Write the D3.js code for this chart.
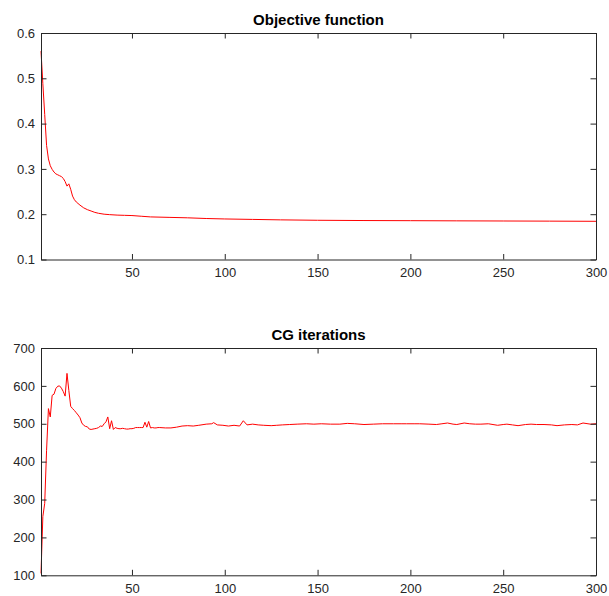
<!DOCTYPE html>
<html>
<head>
<meta charset="utf-8">
<script src="https://cdn.jsdelivr.net/npm/d3@7"></script>
<style>
  body { margin: 0; background: #fff; }
  text { font-family: "Liberation Sans", Arial, Helvetica, sans-serif; }
</style>
</head>
<body>
<div id="chart"></div>
<script>
// objective function per outer iteration
const objIter = [1,2,3,4,5,6,7,8,9,10,11,12,13,14,15,16,17,18,19,20,22,24,26,28,30,32,35,38,42,46,50,55,60,70,80,90,100,115,130,150,175,200,225,250,275,300]
const objVal = [0.560,0.488,0.420,0.352,0.322,0.307,0.299,0.293,0.289,0.287,0.285,0.283,0.279,0.272,0.262,0.267,0.255,0.240,0.232,0.227,0.220,0.214,0.210,0.207,0.204,0.202,0.200,0.199,0.198,0.1975,0.197,0.1955,0.194,0.193,0.192,0.1905,0.1895,0.1885,0.1875,0.1866,0.186,0.1857,0.1853,0.185,0.1847,0.1843]

// CG iterations per outer iteration
const cgIter = [1,2,3,4,5,6,7,8,9,10,11,12,13,14,15,16,17,18,19,20,21,22,23,24,25,26,27,28,29,30,
  31,32,33,34,35,36,37,38,39,40,41,42,43,44,45,46,47,48,49,50,51,52,53,54,55,56,57,58,59,60,
  61,62,63,64,65,68,71,74,77,80,83,86,90,93,94,96,99,102,105,108,110,112,115,118,121,125,128,131,
  135,139,144,148,152,157,162,166,170,175,180,185,191,195,198,202,205,210,214,217,220,223,225,229,
  232,235,238,242,247,250,252,255,258,262,265,268,272,276,279,283,287,290,293,297,300]
const cgVal = [105,255,290,430,540,518,575,578,593,599,600,594,585,573,633,588,546,540,535,529,523,516,502,496,493,492,486,485,486,487,
  488,490,494,493,500,505,518,487,508,485,490,488,487,487,488,487,486,486,487,487,488,490,490,490,490,490,504,491,506,489,
  490,489,489,490,490,489,489,491,494,495,494,496,499,500,503,497,496,494,496,494,508,497,499,497,496,495,496,497,
  498,499,500,499,500,499,499,501,500,498,499,500,500,500,500,500,500,499,498,500,502,499,498,502,
  500,499,499,500,496,498,499,497,495,498,499,498,498,497,495,497,498,497,502,499,500]

const xTicks = [50,100,150,200,250,300]
const objTicks = [0.1,0.2,0.3,0.4,0.5,0.6]
const cgTicks = [100,200,300,400,500,600,700]

const W = 609, H = 596
const axisColor = "#262626"
const tick = 5.5

const svg = d3.select("#chart").append("svg")
    .attr("width", W)
    .attr("height", H)

function panel(opts) {
    const left = 41, right = 596
    const x = d3.scaleLinear().domain([1, 300]).range([left, right])
    const y = d3.scaleLinear().domain(opts.yDomain).range([opts.bottom, opts.top])

    const g = svg.append("g")

    // line
    const pts = opts.xs.map((d, i) => [d, opts.ys[i]])
    g.append("path")
        .datum(pts)
        .attr("fill", "none")
        .attr("stroke", "#ff0000")
        .attr("stroke-width", 1)
        .attr("stroke-linejoin", "round")
        .attr("d", d3.line().x(d => x(d[0])).y(d => y(d[1])))

    // bottom axis, ticks inside
    const xb = g.append("g")
        .attr("transform", `translate(0,${opts.bottom})`)
        .call(d3.axisBottom(x).tickValues(xTicks).tickSizeInner(-tick).tickSizeOuter(0).tickPadding(8))
    // top axis (ticks only)
    const xt = g.append("g")
        .attr("transform", `translate(0,${opts.top})`)
        .call(d3.axisTop(x).tickValues(xTicks).tickSizeInner(-tick).tickSizeOuter(0).tickFormat(""))
    // left axis
    const yl = g.append("g")
        .attr("transform", `translate(${left},0)`)
        .call(d3.axisLeft(y).tickValues(opts.yTicks).tickSizeInner(-tick).tickSizeOuter(0).tickPadding(6)
            .tickFormat(opts.fmt))
    // right axis (ticks only)
    const yr = g.append("g")
        .attr("transform", `translate(${right},0)`)
        .call(d3.axisRight(y).tickValues(opts.yTicks).tickSizeInner(-tick).tickSizeOuter(0).tickFormat(""))

    for (const a of [xb, xt, yl, yr]) {
        a.select(".domain").attr("stroke", axisColor)
        a.selectAll(".tick line").attr("stroke", axisColor)
        a.selectAll(".tick text")
            .attr("fill", axisColor)
            .style("font-size", "13px")
            .style("font-family", '"Liberation Sans", Arial, sans-serif')
    }

    g.append("text")
        .attr("x", (left + right) / 2)
        .attr("y", opts.top - 8)
        .attr("text-anchor", "middle")
        .attr("fill", "#000")
        .style("font-size", "15px")
        .style("font-weight", "bold")
        .text(opts.title)
}

panel({title: "Objective function", top: 33, bottom: 259.5, yDomain: [0.1, 0.6],
    yTicks: objTicks, fmt: d3.format(".1f"), xs: objIter, ys: objVal})

panel({title: "CG iterations", top: 348, bottom: 575.3, yDomain: [100, 700],
    yTicks: cgTicks, fmt: d3.format("d"), xs: cgIter, ys: cgVal})
</script>
</body>
</html>
